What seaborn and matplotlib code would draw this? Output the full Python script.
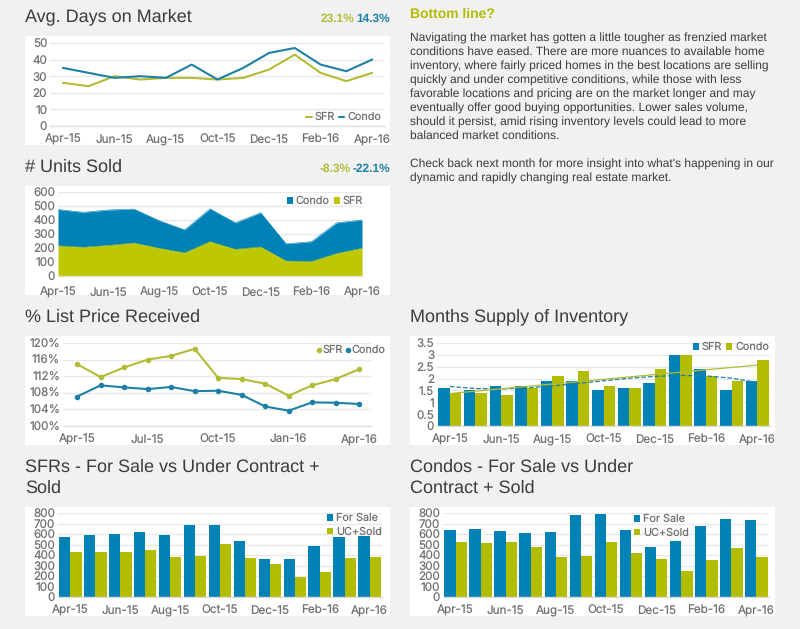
import numpy as np
import pandas as pd
import seaborn as sns
import matplotlib
matplotlib.use('Agg')
import matplotlib.pyplot as plt
from matplotlib.patches import Rectangle

months = ['Apr-15', 'May-15', 'Jun-15', 'Jul-15', 'Aug-15', 'Sep-15', 'Oct-15',
          'Nov-15', 'Dec-15', 'Jan-16', 'Feb-16', 'Mar-16', 'Apr-16']

days_sfr = [26, 24, 30, 28, 29, 29, 28, 29, 34, 43, 32, 27, 32]
days_condo = [35, 32, 29, 30, 29, 37, 28, 35, 44, 47, 37, 33, 40]

units_sfr = [215, 205, 218, 235, 197, 165, 245, 190, 207, 107, 103, 160, 198]
units_condo = [260, 250, 254, 243, 198, 165, 235, 190, 245, 123, 142, 220, 202]

price_sfr = [114.9, 111.8, 114.1, 116, 116.9, 118.6, 111.6, 111.3, 110.2, 107.3, 109.8, 111.3, 113.7]
price_condo = [107.1, 109.8, 109.3, 108.9, 109.4, 108.4, 108.5, 107.5, 104.7, 103.7, 105.7, 105.6, 105.3]

supply_sfr = [1.6, 1.5, 1.7, 1.7, 1.9, 1.9, 1.5, 1.6, 1.8, 3, 2.4, 1.5, 1.9]
supply_condo = [1.4, 1.4, 1.3, 1.6, 2.1, 2.3, 1.7, 1.6, 2.4, 3, 2.1, 1.9, 2.8]

sfr_forsale = [575, 595, 600, 615, 590, 685, 685, 530, 365, 365, 485, 575, 580]
sfr_ucsold = [430, 430, 430, 450, 385, 395, 505, 370, 310, 190, 240, 375, 385]

condo_forsale = [640, 645, 630, 605, 615, 780, 795, 635, 475, 530, 680, 740, 735]
condo_ucsold = [520, 515, 525, 475, 385, 390, 525, 415, 360, 250, 350, 465, 385]

body_lines = [
    'Navigating the market has gotten a little tougher as frenzied market',
    'conditions have eased. There are more nuances to available home',
    'inventory, where fairly priced homes in the best locations are selling',
    'quickly and under competitive conditions, while those with less',
    'favorable locations and pricing are on the market longer and may',
    'eventually offer good buying opportunities. Lower sales volume,',
    'should it persist, amid rising inventory levels could lead to more',
    'balanced market conditions.',
    '',
    "Check back next month for more insight into what's happening in our",
    'dynamic and rapidly changing real estate market.',
]

BLUE = '#0082b6'
GREEN = '#b2bc00'
LINE_BLUE = '#1d80a5'
LINE_GREEN = '#b3bc35'
GREY = '#707070'
DARK = '#3b3b40'
TITLE_FONT = 'Liberation Sans'
LABEL_FONT = 'Inter'

sns.set_theme(style='whitegrid')
plt.rcParams['font.family'] = [LABEL_FONT, 'DejaVu Sans']
plt.rcParams['text.hinting'] = 'no_hinting'

W, H = 800, 629
fig = plt.figure(figsize=(W / 100, H / 100), dpi=100, facecolor='#f1f1f1')


def text_px(x, y, s, **kw):
    kw.setdefault('family', TITLE_FONT)
    kw.setdefault('va', 'center')
    kw.setdefault('color', DARK)
    fig.text(x / W, 1 - y / H, s, **kw)


def panel(box, area):
    # white card behind the chart, then the axes, all given in pixels
    x0, y0, x1, y1 = box
    fig.add_artist(Rectangle((x0 / W, 1 - y1 / H), (x1 - x0) / W, (y1 - y0) / H,
                             transform=fig.transFigure, color='white', lw=0, zorder=-5))
    left, top, right, bottom = area
    ax = fig.add_axes([left / W, 1 - bottom / H, (right - left) / W, (bottom - top) / H])
    ax.set_facecolor('none')
    ax.set_axisbelow(True)
    return ax


def finish(ax, ylim, yticks, xlim, step=2, fmt='{:g}'):
    ax.set_xlim(*xlim)
    ax.set_ylim(*ylim)
    ax.set_xticks(range(0, len(months), step))
    ax.set_xticklabels(months[::step])
    ax.set_yticks(yticks)
    ax.set_yticklabels([fmt.format(v) for v in yticks])
    ax.set_xlabel('')
    ax.set_ylabel('')
    ax.grid(False, axis='x')
    ax.grid(True, axis='y', color='#e9e9e9', lw=1)
    ax.tick_params(axis='both', labelsize=8.4, labelcolor=GREY, length=0, pad=2)
    ax.tick_params(axis='x', pad=6)
    for side in ['top', 'right', 'left']:
        ax.spines[side].set_visible(False)
    ax.spines['bottom'].set_color('#dddddd')
    ax.spines['bottom'].set_linewidth(1)


def long_frame(first_name, first, second_name, second):
    return pd.DataFrame({
        'month': months * 2,
        'series': [first_name] * len(first) + [second_name] * len(second),
        'value': list(first) + list(second),
    })


def small_legend(ax, anchor, ncol, marker_size=0.55, **kw):
    leg = ax.legend(loc='upper right', bbox_to_anchor=anchor, bbox_transform=fig.transFigure,
                    ncol=ncol, frameon=False, fontsize=7.8, labelcolor=GREY,
                    handlelength=marker_size, handleheight=marker_size, handletextpad=0.25,
                    columnspacing=0.4, labelspacing=0.3, borderpad=0, borderaxespad=0, **kw)
    return leg


def bar_panel(box, area, df, yticks, ylim, legend_anchor, legend_ncol):
    ax = panel(box, area)
    palette = dict(zip(df['series'].unique(), [BLUE, GREEN]))
    sns.barplot(data=df, x='month', y='value', hue='series', palette=palette,
                order=months, width=0.9, gap=0, saturation=1, ax=ax, linewidth=0)
    finish(ax, ylim, yticks, (-0.5, 12.5))
    small_legend(ax, legend_anchor, legend_ncol)
    return ax


# Avg. days on market
ax = panel((25, 36, 390, 145), (50, 43, 385, 126))
sns.lineplot(data=long_frame('SFR', days_sfr, 'Condo', days_condo), x='month', y='value',
             hue='series', palette={'SFR': LINE_GREEN, 'Condo': LINE_BLUE}, sort=False,
             lw=1.5, ax=ax)
finish(ax, (0, 50), [0, 10, 20, 30, 40, 50], (-0.5, 12.5))
small_legend(ax, (381 / W, 1 - 112 / H), 2, marker_size=0.5)

# Units sold
ax = panel((25, 186, 390, 295), (58, 192, 362, 276))
xs = np.arange(len(months))
sfr_arr = np.array(units_sfr)
total_arr = sfr_arr + np.array(units_condo)
sns.lineplot(x=xs, y=total_arr, color=BLUE, lw=0.4, ax=ax, legend=False)
sns.lineplot(x=xs, y=sfr_arr, color='#bdc800', lw=0.4, ax=ax, legend=False)
ax.fill_between(xs, sfr_arr, total_arr, color=BLUE, lw=0, label='Condo')
ax.fill_between(xs, 0, sfr_arr, color='#bdc800', lw=0, label='SFR')
finish(ax, (0, 600), [0, 100, 200, 300, 400, 500, 600], (0, 12))
ax.tick_params(axis='x', length=2, color='#cccccc')
small_legend(ax, (363 / W, 1 - 196 / H), 2)

# % list price received
ax = panel((25, 336, 390, 445), (63, 343, 371, 426))
sns.lineplot(data=long_frame('SFR', price_sfr, 'Condo', price_condo), x='month', y='value',
             hue='series', palette={'SFR': LINE_GREEN, 'Condo': LINE_BLUE}, sort=False,
             lw=1.5, marker='o', markersize=4, markeredgewidth=0, ax=ax)
finish(ax, (100, 120), [100, 104, 108, 112, 116, 120], (-0.6, 12.5), step=3, fmt='{:g}%')
small_legend(ax, (385 / W, 1 - 345 / H), 2, marker_size=0.1)

# Months supply of inventory
ax = bar_panel((410, 336, 775, 445), (437, 343, 770, 426),
               long_frame('SFR', supply_sfr, 'Condo', supply_condo),
               [0, 0.5, 1, 1.5, 2, 2.5, 3, 3.5], (0, 3.5), (769 / W, 1 - 342 / H), 2)
trend_x = np.arange(len(months))
sfr_trend = np.polyval(np.polyfit(trend_x, supply_sfr, 3), trend_x)
condo_trend = np.polyval(np.polyfit(trend_x, supply_condo, 1), trend_x)
sns.lineplot(x=trend_x, y=sfr_trend, color=LINE_BLUE, lw=0.9, linestyle='--', ax=ax, legend=False)
sns.lineplot(x=trend_x, y=condo_trend, color=LINE_GREEN, lw=0.9, ax=ax, legend=False)

# For sale vs under contract + sold
bar_panel((25, 507, 390, 616), (58, 513, 382, 597),
          long_frame('For Sale', sfr_forsale, 'UC+Sold', sfr_ucsold),
          list(range(0, 900, 100)), (0, 800), (382 / W, 1 - 513 / H), 1)
bar_panel((410, 507, 775, 616), (443, 513, 769, 597),
          long_frame('For Sale', condo_forsale, 'UC+Sold', condo_ucsold),
          list(range(0, 900, 100)), (0, 800), (689 / W, 1 - 514 / H), 1)

# headings
text_px(25, 17, 'Avg. Days on Market', fontsize=13)
text_px(25, 167, '# Units Sold', fontsize=13)
text_px(25, 317, '% List Price Received', fontsize=13)
text_px(410, 317, 'Months Supply of Inventory', fontsize=13)
text_px(25, 467, 'SFRs - For Sale vs Under Contract +', fontsize=13)
text_px(25, 488, 'Sold', fontsize=13)
text_px(410, 467, 'Condos - For Sale vs Under', fontsize=13)
text_px(410, 488, 'Contract + Sold', fontsize=13)

text_px(354, 19, '23.1%', fontsize=8.6, weight='bold', color=LINE_GREEN, ha='right')
text_px(390, 19, '14.3%', fontsize=8.6, weight='bold', color=LINE_BLUE, ha='right')
text_px(351, 169, '-8.3%', fontsize=8.6, weight='bold', color=LINE_GREEN, ha='right')
text_px(390, 169, '-22.1%', fontsize=8.6, weight='bold', color=LINE_BLUE, ha='right')

text_px(410, 14, 'Bottom line?', fontsize=10, weight='bold', color=GREEN)
for i, line in enumerate(body_lines):
    text_px(410, 38 + 14 * i, line, fontsize=8.65)

fig.savefig('out.png', dpi=100, facecolor=fig.get_facecolor())
plt.close(fig)
